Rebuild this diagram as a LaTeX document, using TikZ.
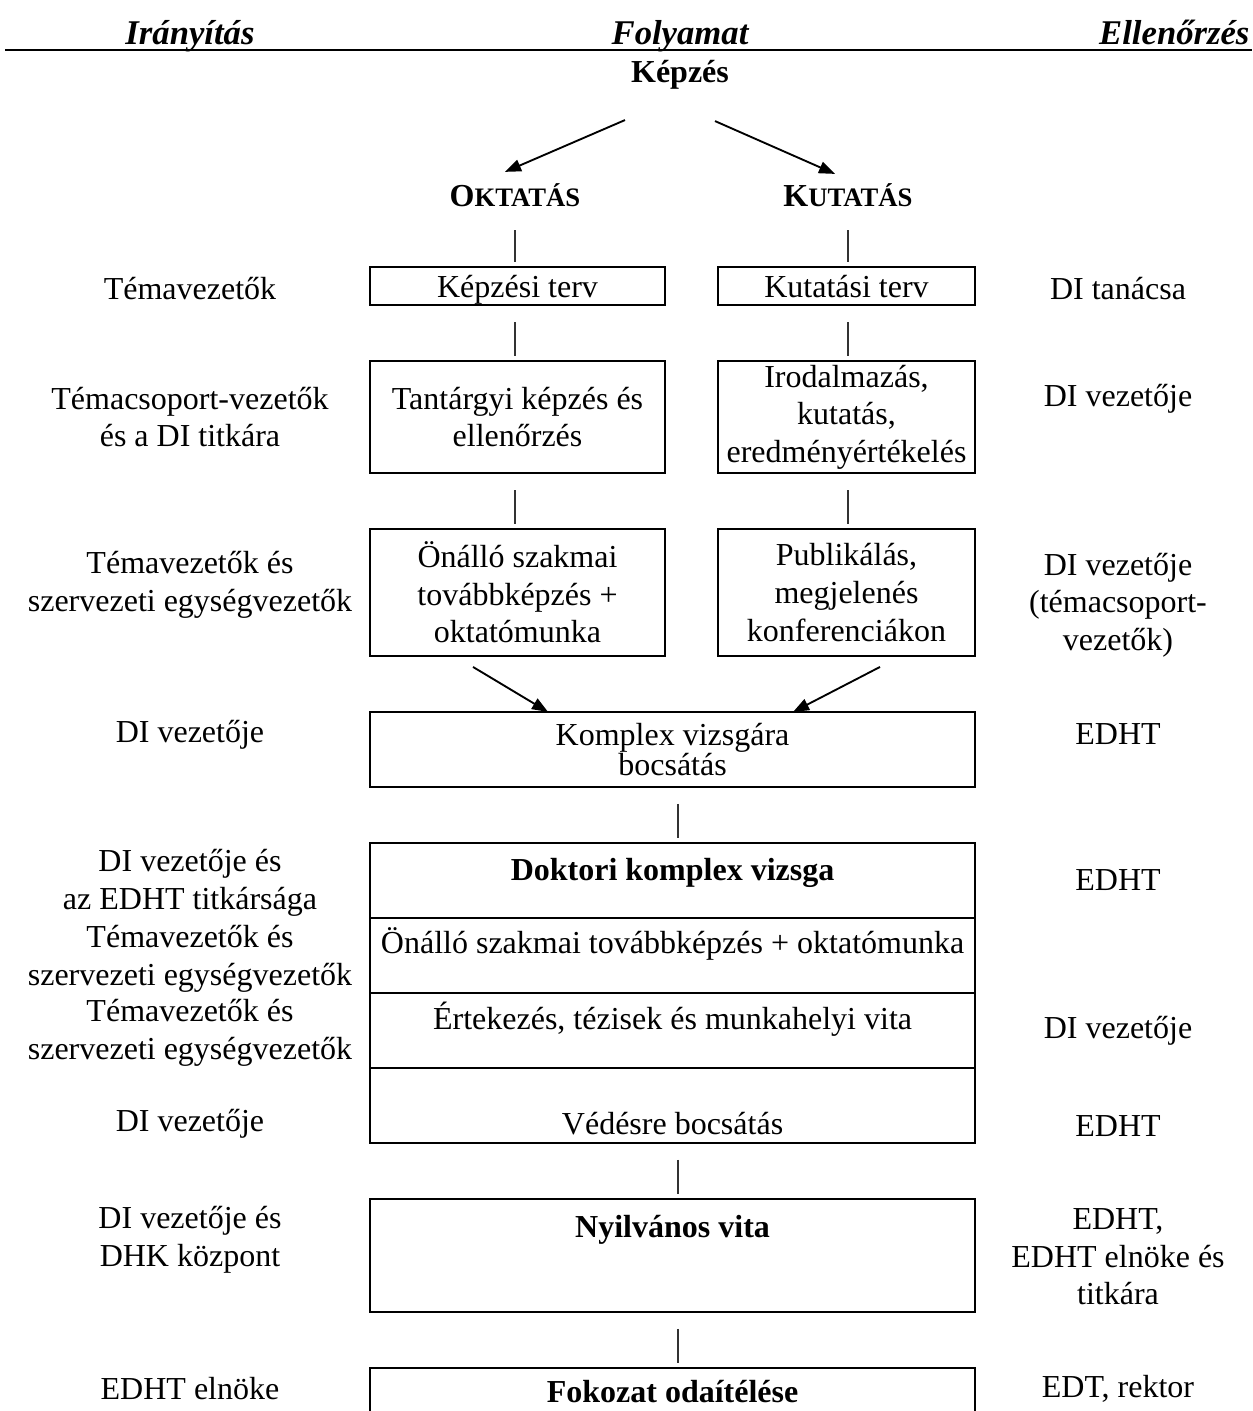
\documentclass[tikz,border=0pt]{standalone}
\usepackage{fontspec}
\setmainfont{Liberation Serif}
\usetikzlibrary{positioning,calc,arrows.meta}
\newcommand{\normalfs}{\fontsize{12pt}{14.1pt}\selectfont}

\begin{document}
\begin{tikzpicture}[x=0.375pt, y=-0.375pt, node distance=21pt,
  every node/.style={font=\normalfs},
  header/.style={font=\fontsize{13pt}{15pt}\selectfont\bfseries\itshape, inner sep=0pt, anchor=base},
  side/.style={align=center, inner sep=0pt},
  box/.style 2 args={draw, line width=0.8pt, align=center, inner xsep=2pt, inner ysep=0pt, outer sep=0pt, minimum width=#1, minimum height=#2},
  cell/.style 2 args={draw, line width=0.8pt, minimum width=226.9pt, inner ysep=0pt, outer sep=0pt, text height=#1, text depth=#2},
  connector/.style={draw=black!80, line width=0.5pt, shorten <=6.4pt, shorten >=1.9pt},
  flow/.style={-{Triangle[length=6pt,width=4.5pt]}, line width=0.7pt}]

% FRAME
\path[use as bounding box, fill=white] (0,0) rectangle (1252,1411);
\clip (0,0) rectangle (1252,1411);

% HEADER
\node[header] (iranyitas) at (190,44) {Irányítás};
\node[header] (folyamat) at (680,44) {Folyamat};
\node[header, anchor=base east] (ellenorzes) at (1250,44) {Ellenőrzés};
\draw[line width=1pt] (5,50) -- (1252,50);

% PROCESS
\node[font=\normalfs\bfseries, inner sep=0pt] (kepzes) at (680,75) {Képzés};

\node[font=\normalfs\bfseries, inner sep=0pt] (oktatas) at (515,195) {O{\fontsize{10pt}{12pt}\selectfont KTATÁS}};
\node[font=\normalfs\bfseries, inner sep=0pt] (kutatas) at (848,195) {K{\fontsize{10pt}{12pt}\selectfont UTATÁS}};

\node[box={110.6pt}{14.25pt}, text height=11.25pt, text depth=3pt, anchor=north] (kepzesi-terv) at (517.5,267) {Képzési terv};
\node[box={96.4pt}{14.25pt}, text height=11.25pt, text depth=3pt, anchor=north] (kutatasi-terv) at (846.5,267) {Kutatási terv};

\node[box={110.6pt}{42pt}, below=of kepzesi-terv] (tantargyi) {Tantárgyi képzés és\\ellenőrzés};
\node[box={96.4pt}{42pt}, below=of kutatasi-terv] (irodalmazas) {Irodalmazás,\\kutatás,\\eredményértékelés};

\node[box={110.6pt}{47.6pt}, below=of tantargyi] (onallo) {Önálló szakmai\\továbbképzés +\\oktatómunka};
\node[box={96.4pt}{47.6pt}, below=of irodalmazas] (publikalas) {Publikálás,\\megjelenés\\konferenciákon};

\node[box={226.9pt}{28.1pt}, below=of onallo.south west, anchor=north west, font=\fontsize{12pt}{11.25pt}\selectfont] (komplex) {Komplex vizsgára\\bocsátás};

\node[cell={14.25pt}{13.9pt}, below=of komplex, font=\normalfs\bfseries] (doktori) {Doktori komplex vizsga};
\node[cell={13.5pt}{14.6pt}, below=0pt of doktori] (tovabbkepzes) {Önálló szakmai továbbképzés + oktatómunka};
\node[cell={13.9pt}{14.2pt}, below=0pt of tovabbkepzes] (ertekezes) {Értekezés, tézisek és munkahelyi vita};
\node[cell={25.1pt}{3pt}, below=0pt of ertekezes] (vedes) {Védésre bocsátás};

\node[cell={14.6pt}{27.75pt}, below=of vedes, font=\normalfs\bfseries] (nyilvanos) {Nyilvános vita};
\node[cell={13.1pt}{15pt}, below=of nyilvanos, font=\normalfs\bfseries] (fokozat) {Fokozat odaítélése};

% CONNECTORS
\coordinate (spine) at (678,0);

\draw[flow] ($(kepzes.south)+(-55,30)$) -- ($(oktatas.north)+(-10,-11)$);
\draw[flow] ($(kepzes.south)+(35,31)$) -- ($(kutatas.north)+(-13,-9)$);

\draw[connector, shorten <=8.6pt] (oktatas.south) -- (oktatas.south |- kepzesi-terv.north);
\draw[connector] (oktatas |- kepzesi-terv.south) -- (oktatas |- tantargyi.north);
\draw[connector] (oktatas |- tantargyi.south) -- (oktatas |- onallo.north);

\draw[connector, shorten <=8.6pt] (kutatas.south) -- (kutatas.south |- kutatasi-terv.north);
\draw[connector] (kutatas |- kutatasi-terv.south) -- (kutatas |- irodalmazas.north);
\draw[connector] (kutatas |- irodalmazas.south) -- (kutatas |- publikalas.north);

\draw[flow] ($(onallo.south)+(-44.5,11)$) -- ($(komplex.north)+(-124.5,0)$);
\draw[flow] ($(publikalas.south)+(33.5,11)$) -- ($(komplex.north)+(120.5,0)$);

\draw[connector] (spine |- komplex.south) -- (spine |- doktori.north);
\draw[connector] (spine |- vedes.south) -- (spine |- nyilvanos.north);
\draw[connector] (spine |- nyilvanos.south) -- (spine |- fokozat.north);

% IRANYITAS
\node[side] (iranyitas-1) at (190,289) {Témavezetők};
\node[side] (iranyitas-2) at (190,417) {Témacsoport-vezetők\\és a DI titkára};
\node[side] (iranyitas-3) at (190,585) {Témavezetők és\\szervezeti egységvezetők};
\node[side] (iranyitas-4) at (190,735) {DI vezetője};
\node[side] (iranyitas-5) at (190,883) {DI vezetője és\\az EDHT titkársága};
\node[side] (iranyitas-6) at (190,959) {Témavezetők és\\szervezeti egységvezetők};
\node[side] (iranyitas-7) at (190,1033) {Témavezetők és\\szervezeti egységvezetők};
\node[side] (iranyitas-8) at (190,1124) {DI vezetője};
\node[side] (iranyitas-9) at (190,1240) {DI vezetője és\\DHK központ};
\node[side] (iranyitas-10) at (190,1389) {EDHT elnöke};

% ELLENORZES
\node[side] (ellenorzes-1) at (1118,289) {DI tanácsa};
\node[side] (ellenorzes-2) at (1118,399) {DI vezetője};
\node[side] (ellenorzes-3) at (1118,605) {DI vezetője\\(témacsoport-\\vezetők)};
\node[side] (ellenorzes-4) at (1118,734) {EDHT};
\node[side] (ellenorzes-5) at (1118,880) {EDHT};
\node[side] (ellenorzes-6) at (1118,1031) {DI vezetője};
\node[side] (ellenorzes-7) at (1118,1126) {EDHT};
\node[side] (ellenorzes-8) at (1118,1257) {EDHT,\\EDHT elnöke és\\titkára};
\node[side] (ellenorzes-9) at (1118,1389) {EDT, rektor};

\end{tikzpicture}
\end{document}
